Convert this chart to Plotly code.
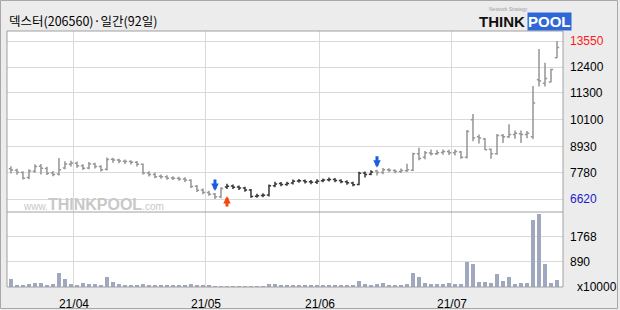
import plotly.graph_objects as go

# ---------------- data ----------------
title_text = "덱스터(206560)·일간(92일)"
month_labels = ["21/04", "21/05", "21/06", "21/07"]
month_start_index = [11, 33, 52, 74]   # first trading day of each month

open_ = [7950, 7880, 7780, 7560, 7840, 8060, 7960, 7760, 7720, 7980,
         8140, 8190, 8080, 7980, 8150, 8040, 7930, 8360, 8330, 8280,
         8260, 8230, 8140, 7760, 7700, 7620, 7600, 7540, 7530, 7500,
         7440, 7180, 7010, 6910, 6840, 6720, 7150, 7190, 7150, 7100,
         7010, 6740, 6770, 6790, 7200, 7300, 7260, 7320, 7410, 7420,
         7380, 7350, 7420, 7460, 7480, 7430, 7380, 7320, 7260, 7760,
         7710, 7850, 7780, 7900, 7870, 7830, 7860, 7880, 8600, 8450,
         8640, 8600, 8660, 8700, 8650, 8680, 8450, 10100, 9350, 9250,
         8800, 8600, 9400, 9350, 9450, 9480, 9450, 9350, 11850, 11700,
         11750, 12820]
high = [8060, 7950, 7840, 7920, 8140, 8150, 8030, 7850, 8420, 8280,
        8300, 8260, 8140, 8240, 8210, 8100, 8440, 8430, 8390, 8350,
        8320, 8290, 8180, 7840, 7780, 7700, 7660, 7620, 7600, 7570,
        7490, 7230, 7080, 6980, 6880, 7130, 7290, 7260, 7210, 7160,
        7060, 6850, 6870, 7260, 7380, 7370, 7380, 7480, 7500, 7480,
        7450, 7490, 7520, 7560, 7540, 7490, 7440, 7380, 7820, 7830,
        7880, 7900, 7980, 7970, 7930, 7960, 8170, 8650, 8870, 8720,
        8790, 8770, 8790, 8780, 8790, 8720, 9650, 10350, 9450, 9300,
        8840, 9470, 9470, 9900, 9620, 9620, 9600, 11580, 13200, 12600,
        12330, 13550]
low = [7740, 7680, 7480, 7490, 7770, 7700, 7670, 7620, 7650, 7930,
       8040, 7990, 7890, 7920, 7960, 7830, 7870, 8210, 8190, 8160,
       8130, 8050, 7700, 7610, 7530, 7510, 7460, 7450, 7420, 7370,
       7100, 6930, 6830, 6760, 6620, 6650, 7060, 7060, 7010, 6940,
       6680, 6680, 6700, 6730, 7130, 7180, 7200, 7260, 7330, 7300,
       7270, 7280, 7350, 7390, 7360, 7310, 7250, 7180, 7220, 7560,
       7660, 7650, 7710, 7790, 7750, 7760, 7800, 7850, 8320, 8360,
       8530, 8550, 8560, 8550, 8530, 8380, 8400, 9150, 9050, 8770,
       8380, 8560, 9080, 9300, 9260, 9080, 9280, 9250, 11550, 11550,
       11740, 12800]
close = [7890, 7790, 7530, 7850, 8040, 7970, 7750, 7700, 7900, 8150,
         8200, 8080, 7970, 8150, 8040, 7900, 8350, 8330, 8290, 8260,
         8230, 8140, 7760, 7700, 7600, 7600, 7530, 7530, 7500, 7455,
         7170, 7000, 6900, 6830, 6720, 7080, 7180, 7140, 7100, 7020,
         6730, 6760, 6780, 7200, 7280, 7260, 7300, 7400, 7420, 7380,
         7350, 7400, 7450, 7480, 7430, 7380, 7330, 7250, 7750, 7700,
         7800, 7780, 7900, 7880, 7830, 7870, 7900, 8610, 8400, 8650,
         8600, 8650, 8700, 8650, 8700, 8450, 9580, 9300, 9300, 8780,
         8600, 9400, 9350, 9450, 9500, 9450, 9500, 10830, 11800, 11900,
         12300, 13270]
volume = [282, 70, 70, 100, 140, 140, 80, 100, 490, 282,
          100, 70, 140, 100, 100, 70, 350, 180, 100, 70,
          70, 70, 100, 70, 70, 70, 40, 40, 40, 70,
          100, 70, 70, 40, 35, 35, 35, 35, 35, 35,
          35, 35, 35, 100, 100, 40, 50, 50, 50, 50,
          60, 40, 40, 60, 40, 40, 40, 40, 210, 100,
          80, 100, 130, 70, 40, 70, 100, 490, 350, 130,
          100, 100, 100, 130, 100, 100, 890, 810, 190, 190,
          140, 460, 210, 350, 110, 140, 140, 2370, 2580, 810,
          140, 250]   # x10000 shares

buy_signals = [36]
sell_signals = [34, 61]

price_ticks = [6620, 7780, 8930, 10100, 11300, 12400, 13550]
volume_ticks = [890, 1768]
volume_unit = "x10000"

# ---------------- layout geometry ----------------
W, H = 620, 310
L, R, T, B = 7, 57, 31, 23
PW, PH = W - L - R, H - T - B
VOL_H = 75


def px(x):
    return (x - L) / PW


def py(y):
    return (H - B - y) / PH


n = len(close)
idx = list(range(n))

GRAY = "#959595"
DARK = "#363636"

fig = go.Figure()

b0 = buy_signals[0]
s1 = [s for s in sell_signals if s > b0][0]
segments = [(0, b0, GRAY), (b0, s1, DARK), (s1, n, GRAY)]
for a, b, col in segments:
    fig.add_trace(go.Ohlc(
        x=idx[a:b], open=open_[a:b], high=high[a:b], low=low[a:b], close=close[a:b],
        increasing=dict(line=dict(color=col, width=1.5)),
        decreasing=dict(line=dict(color=col, width=1.5)),
        tickwidth=0.36, xaxis="x", yaxis="y", showlegend=False, hoverinfo="skip"))

fig.add_trace(go.Bar(x=idx, y=volume, marker=dict(color="#a0a8c0", line=dict(width=0)),
                     width=0.82, xaxis="x", yaxis="y2", showlegend=False, hoverinfo="skip"))

pmin, pmax = min(low), max(high)
tick_text = []
for v in price_ticks:
    if v == pmax:
        tick_text.append('<span style="color:#ff1a1a">%d</span>' % v)
    elif v == pmin:
        tick_text.append('<span style="color:#1a1acc">%d</span>' % v)
    else:
        tick_text.append(str(v))

per_px = (price_ticks[-1] - price_ticks[0]) / (199 - 41)
p_lo = price_ticks[0] - (212 - 199) * per_px
p_hi = price_ticks[-1] + (41 - 31) * per_px

tick_font = dict(family="Liberation Sans, Arial, sans-serif", size=12, color="#000000")

fig.update_layout(
    width=W, height=H,
    margin=dict(l=L, r=R, t=T, b=B, pad=0, autoexpand=False),
    paper_bgcolor="#ececec", plot_bgcolor="#ffffff",
    bargap=0,
    xaxis=dict(domain=[0, 1], range=[-0.66, n + 0.0], anchor="y2",
               tickvals=[i - 0.5 for i in month_start_index], ticktext=month_labels,
               showgrid=True, gridcolor="#d9d9d9", gridwidth=1, ticks="",
               zeroline=False, showline=False, tickfont=tick_font,
               ticklabelstandoff=8, automargin=False,
               rangeslider=dict(visible=False), fixedrange=True),
    yaxis=dict(domain=[VOL_H / PH, 1], range=[p_lo, p_hi], side="right", anchor="x",
               tickvals=price_ticks, ticktext=tick_text, showgrid=True, gridcolor="#d9d9d9",
               ticks="", zeroline=False, showline=False, tickfont=tick_font,
               ticklabelstandoff=6, automargin=False),
    yaxis2=dict(domain=[0, VOL_H / PH], range=[0, VOL_H * 35.33], side="right", anchor="x",
                tickvals=volume_ticks, ticktext=[str(v) for v in volume_ticks],
                showgrid=True, gridcolor="#d9d9d9", ticks="", zeroline=False,
                showline=False, tickfont=tick_font, ticklabelstandoff=6, automargin=False),
    showlegend=False,
)

shapes = [
    dict(type="rect", xref="paper", yref="paper", x0=px(0.5), x1=px(617.5), y0=py(308.5), y1=py(0.5),
         line=dict(color="#a8a8a8", width=1), fillcolor="rgba(0,0,0,0)", layer="below"),
    dict(type="rect", xref="paper", yref="paper", x0=0, x1=1, y0=0, y1=1,
         line=dict(color="#a0a0a0", width=1)),
    dict(type="line", xref="paper", yref="paper", x0=0, x1=1, y0=VOL_H / PH, y1=VOL_H / PH,
         line=dict(color="#a0a0a0", width=1)),
]
fig.update_layout(shapes=shapes)

ann = []
ann.append(dict(xref="paper", yref="paper", x=px(7), y=py(20), xanchor="left", yanchor="middle",
                text=title_text, showarrow=False,
                font=dict(family="Noto Sans CJK KR", size=12.5, color="#000000")))
# logo
ann.append(dict(xref="paper", yref="paper", x=px(527), y=py(21), xanchor="right", yanchor="middle",
                text="<b>THINK</b>", showarrow=False,
                font=dict(family="Liberation Sans, Arial", size=15, color="#111111")))
ann.append(dict(xref="paper", yref="paper", x=px(527), y=py(21), xanchor="left", yanchor="middle",
                text="<b>POOL</b>", showarrow=False, bgcolor="#2f66d8", borderpad=0,
                font=dict(family="Liberation Sans, Arial", size=15, color="#ffffff")))
ann.append(dict(xref="paper", yref="paper", x=px(508), y=py(9), xanchor="center", yanchor="middle",
                text="Network Strategy", showarrow=False,
                font=dict(family="Liberation Sans, Arial", size=5, color="#a0a0a0")))
# watermark
ann.append(dict(xref="paper", yref="paper", x=px(21), y=py(204), xanchor="left", yanchor="middle",
                text='<span style="font-size:10px">www.</span><b>THINKPOOL</b><span style="font-size:10px">.com</span>',
                showarrow=False,
                font=dict(family="Liberation Sans, Arial", size=16, color="#c8c8c8")))
# volume unit
ann.append(dict(xref="paper", yref="paper", x=px(575), y=py(287), xanchor="left", yanchor="middle",
                text=volume_unit, showarrow=False, font=tick_font))
# signal arrows
for s in sell_signals:
    ann.append(dict(x=s, y=high[s], xref="x", yref="y", text="", showarrow=True,
                    ax=0, ay=-15, arrowhead=2, arrowsize=0.5, arrowwidth=3,
                    arrowcolor="#1a5ee0", standoff=2))
for s in buy_signals:
    ann.append(dict(x=s, y=low[s], xref="x", yref="y", text="", showarrow=True,
                    ax=0, ay=19, arrowhead=2, arrowsize=0.5, arrowwidth=3,
                    arrowcolor="#f04a10", standoff=7))
fig.update_layout(annotations=ann)

fig.write_html("out.html")
